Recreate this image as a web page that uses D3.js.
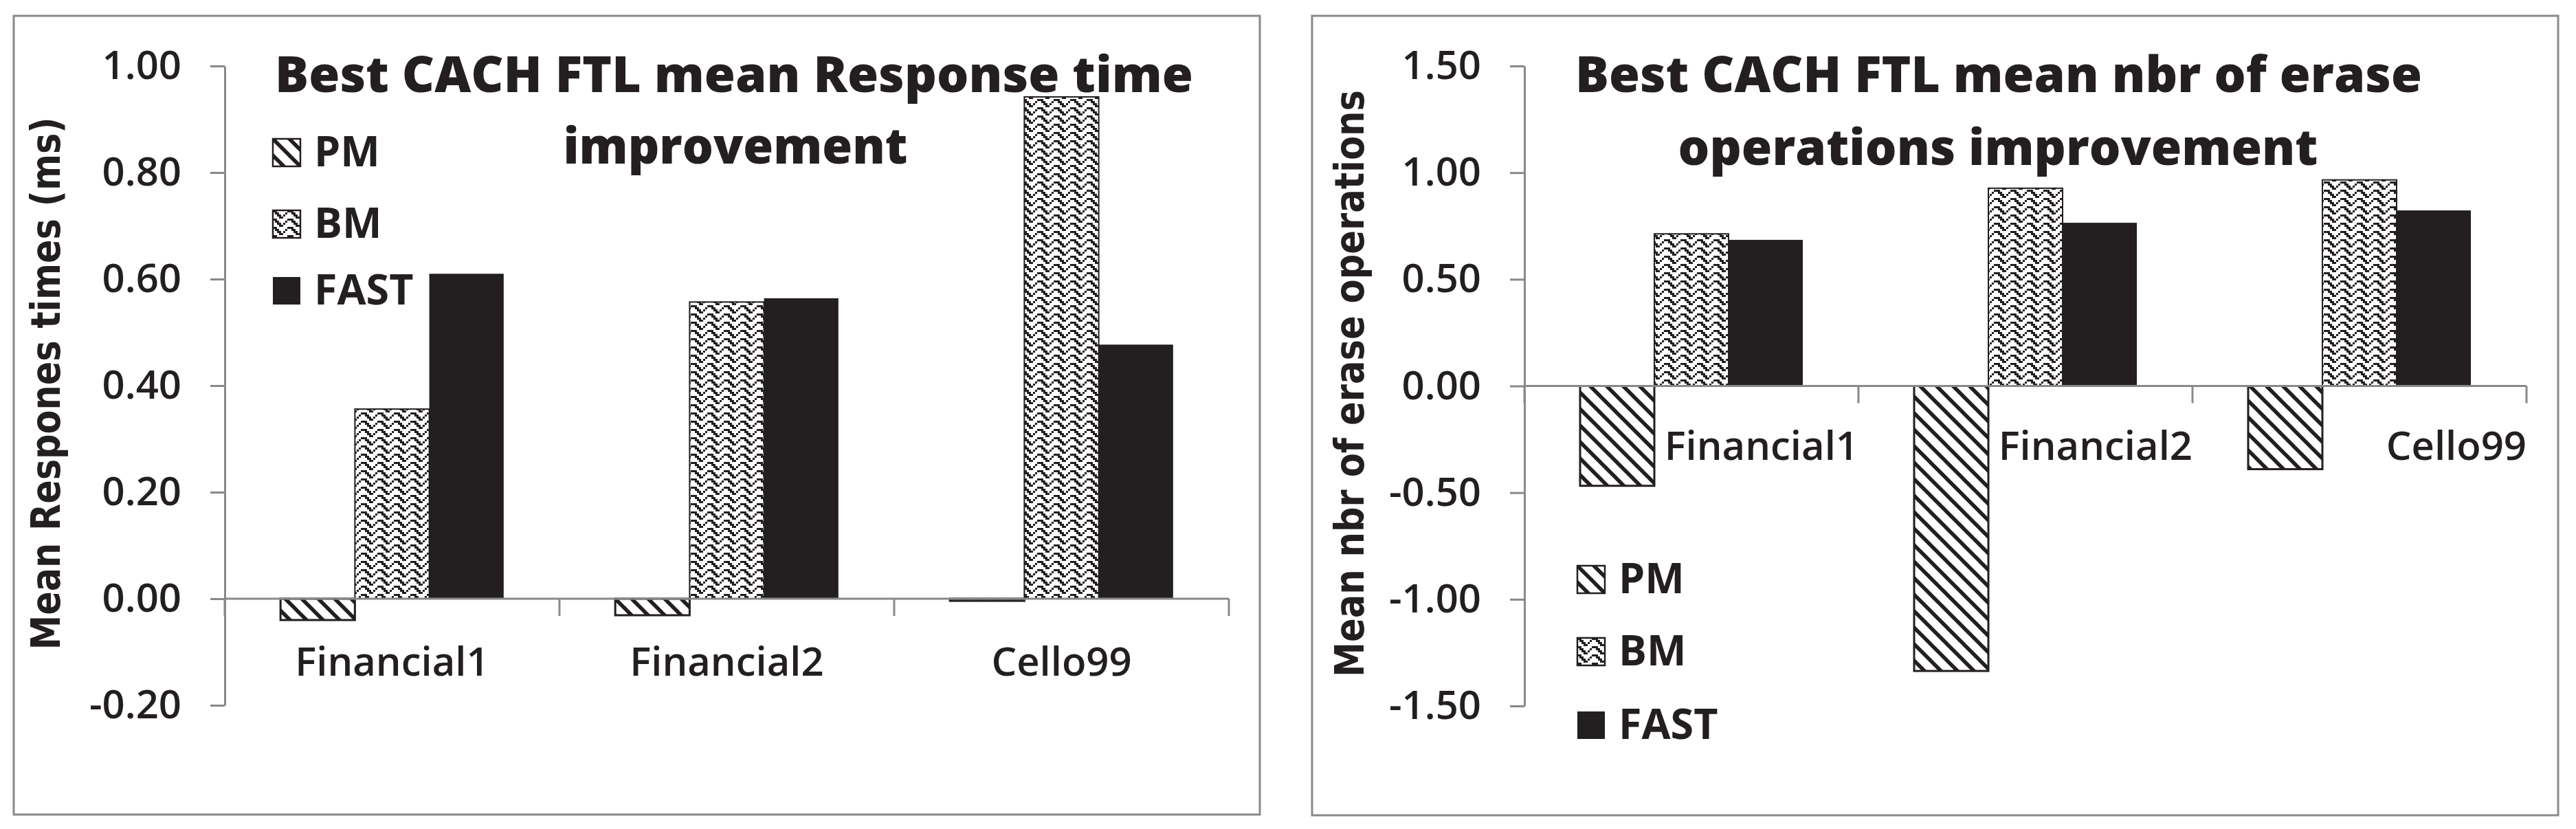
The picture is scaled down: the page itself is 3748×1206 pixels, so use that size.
<!DOCTYPE html>
<html>
<head>
<meta charset="utf-8">
<script src="https://cdn.jsdelivr.net/npm/d3@7"></script>
<style>
  body { margin: 0; background: #fff; }
  svg { display: block; }
</style>
</head>
<body>
<svg id="chart" width="3748" height="1206"></svg>
<script>
// data
var categories = ['Financial1', 'Financial2', 'Cello99'];
var series = ['PM', 'BM', 'FAST'];

var respPM = [-0.040, -0.031, -0.004];
var respBM = [0.356, 0.557, 0.942];
var respFAST = [0.610, 0.564, 0.477];
var respTicks = [-0.2, 0, 0.2, 0.4, 0.6, 0.8, 1.0];

var erasePM = [-0.468, -1.336, -0.390];
var eraseBM = [0.713, 0.927, 0.966];
var eraseFAST = [0.685, 0.765, 0.823];
var eraseTicks = [-1.5, -1.0, -0.5, 0, 0.5, 1.0, 1.5];

var ink = '#231f20';
var axisGrey = '#898989';

var svg = d3.select('#chart');
var defs = svg.append('defs');

// PM : wide downward diagonal
var pm = defs.append('pattern')
  .attr('id', 'pat-pm')
  .attr('patternUnits', 'userSpaceOnUse')
  .attr('width', 24).attr('height', 24);
pm.append('rect').attr('width', 24).attr('height', 24).attr('fill', '#fff');
pm.append('path')
  .attr('d', 'M-6,-6L30,30M-6,18L6,30M18,-6L30,6')
  .attr('stroke', ink).attr('stroke-width', 5.5);

// BM : zig zag made of small square dots
var zig = [[0, 1, 7], [1, 2, 6], [2, 3, 5], [3, 4]];
var bm = defs.append('pattern')
  .attr('id', 'pat-bm')
  .attr('patternUnits', 'userSpaceOnUse')
  .attr('width', 24).attr('height', 12);
bm.append('rect').attr('width', 24).attr('height', 12).attr('fill', '#fff');
zig.forEach(function(cols, row) {
  cols.forEach(function(c) {
    bm.append('rect')
      .attr('x', c * 3).attr('y', row * 3)
      .attr('width', 3).attr('height', 3)
      .attr('fill', ink);
  });
});

var fills = { PM: 'url(#pat-pm)', BM: 'url(#pat-bm)', FAST: ink };

var charts = [
  {
    frame: [20, 23, 1813, 1162],
    left: 327, right: 1788, top: 96, bottom: 1026,
    domain: [-0.2, 1.0], ticks: respTicks,
    values: { PM: respPM, BM: respBM, FAST: respFAST },
    title: [
      { text: 'Best CACH FTL mean Response time', x: 1068, y: 134, len: 1336 },
      { text: 'improvement', x: 1070, y: 238, len: 501 }
    ],
    yTitle: { text: 'Mean Respones times (ms)', x: 87, y: 558, len: 775 },
    labels: 'middle', labelY: 983,
    legendX: 397, legendTops: [202, 306, 403]
  },
  {
    frame: [1909, 23, 1813, 1163],
    left: 2218, right: 3676, top: 96, bottom: 1027,
    domain: [-1.5, 1.5], ticks: eraseTicks,
    values: { PM: erasePM, BM: eraseBM, FAST: eraseFAST },
    title: [
      { text: 'Best CACH FTL mean nbr of erase', x: 2908, y: 134, len: 1232 },
      { text: 'operations improvement', x: 2907, y: 240, len: 931 }
    ],
    yTitle: { text: 'Mean nbr of erase  operations', x: 1984, y: 558, len: 854 },
    labels: 'end', labelY: 669,
    legendX: 2295, legendTops: [823, 928, 1035]
  }
];

charts.forEach(function(c) {
  var g = svg.append('g');

  g.append('rect')
    .attr('x', c.frame[0]).attr('y', c.frame[1])
    .attr('width', c.frame[2]).attr('height', c.frame[3])
    .attr('fill', '#fff').attr('stroke', axisGrey).attr('stroke-width', 3);

  var y = d3.scaleLinear().domain(c.domain).range([c.bottom, c.top]);
  var x0 = d3.scaleBand().domain(categories).range([c.left, c.right]);
  var x1 = d3.scaleBand().domain(series).range([0, x0.bandwidth()]).paddingOuter(0.75);

  // bars
  series.forEach(function(s) {
    g.selectAll('rect.bar-' + s)
      .data(c.values[s])
      .enter().append('rect')
      .attr('class', 'bar-' + s)
      .attr('x', function(d, i) { return x0(categories[i]) + x1(s); })
      .attr('width', x1.bandwidth())
      .attr('y', function(d) { return y(Math.max(0, d)); })
      .attr('height', function(d) { return Math.abs(y(d) - y(0)); })
      .attr('fill', fills[s])
      .attr('stroke', s === 'FAST' ? 'none' : ink)
      .attr('stroke-width', s === 'PM' ? 3 : 2);
  });

  // y axis
  var yAxis = d3.axisLeft(y)
    .tickValues(c.ticks)
    .tickSize(21)
    .tickSizeOuter(0)
    .tickPadding(42)
    .tickFormat(function(d) { return d.toFixed(2); });
  var ya = g.append('g').attr('transform', 'translate(' + c.left + ',0)').call(yAxis);
  ya.selectAll('path, line').attr('stroke', axisGrey).attr('stroke-width', 3);
  ya.selectAll('text')
    .attr('fill', ink)
    .style('font-family', '"Open Sans", sans-serif')
    .style('font-weight', 600)
    .style('font-size', '58px');

  // x axis at zero with category boundary ticks
  var zero = y(0);
  g.append('line')
    .attr('x1', c.left).attr('x2', c.right)
    .attr('y1', zero).attr('y2', zero)
    .attr('stroke', axisGrey).attr('stroke-width', 3);
  var bounds = categories.map(function(d) { return x0(d); }).concat([c.right]);
  g.selectAll('line.xtick')
    .data(bounds)
    .enter().append('line')
    .attr('class', 'xtick')
    .attr('x1', function(d) { return d; }).attr('x2', function(d) { return d; })
    .attr('y1', zero).attr('y2', zero + 25)
    .attr('stroke', axisGrey).attr('stroke-width', 3);

  g.selectAll('text.cat')
    .data(categories)
    .enter().append('text')
    .attr('class', 'cat')
    .attr('x', function(d) {
      return c.labels === 'end' ? x0(d) + x0.bandwidth() : x0(d) + x0.bandwidth() / 2;
    })
    .attr('y', c.labelY)
    .attr('text-anchor', c.labels)
    .attr('fill', ink)
    .style('font-family', '"Open Sans", sans-serif')
    .style('font-weight', 600)
    .style('font-size', '58px')
    .text(function(d) { return d; });

  // titles
  c.title.forEach(function(t) {
    g.append('text')
      .attr('x', t.x).attr('y', t.y)
      .attr('text-anchor', 'middle')
      .attr('textLength', t.len)
      .attr('lengthAdjust', 'spacingAndGlyphs')
      .attr('fill', ink)
      .style('font-family', '"Open Sans", sans-serif')
      .style('font-weight', 800)
      .style('font-size', '73px')
      .text(t.text);
  });

  g.append('text')
    .attr('transform', 'translate(' + c.yTitle.x + ',' + c.yTitle.y + ') rotate(-90)')
    .attr('text-anchor', 'middle')
    .attr('textLength', c.yTitle.len)
    .attr('lengthAdjust', 'spacingAndGlyphs')
    .attr('fill', ink)
    .style('font-family', '"DejaVu Sans", sans-serif')
    .style('font-weight', 700)
    .style('font-size', '58px')
    .text(c.yTitle.text);

  // legend
  var leg = g.selectAll('g.leg')
    .data(series)
    .enter().append('g')
    .attr('class', 'leg')
    .attr('transform', function(d, i) { return 'translate(' + c.legendX + ',' + c.legendTops[i] + ')'; });
  leg.append('rect')
    .attr('width', 40).attr('height', 40)
    .attr('fill', function(d) { return fills[d]; })
    .attr('stroke', function(d) { return d === 'FAST' ? 'none' : ink; })
    .attr('stroke-width', 2.5);
  leg.append('text')
    .attr('x', 60).attr('y', 40)
    .attr('fill', ink)
    .style('font-family', '"Open Sans", sans-serif')
    .style('font-weight', 700)
    .style('font-size', '61px')
    .text(function(d) { return d; });
});
</script>
</body>
</html>
